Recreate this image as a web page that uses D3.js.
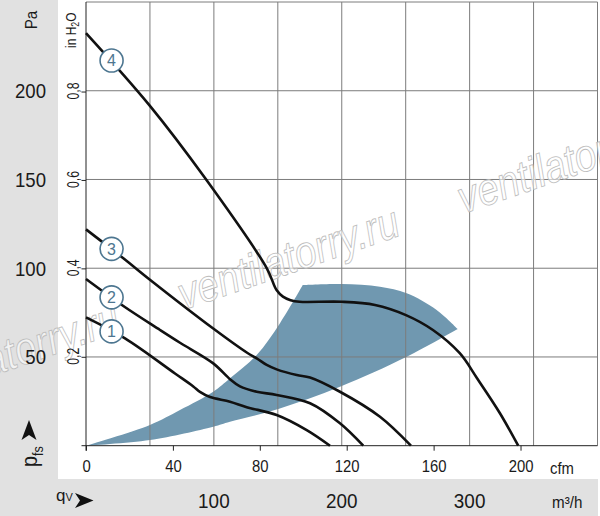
<!DOCTYPE html>
<html>
<head>
<meta charset="utf-8">
<script src="https://cdn.jsdelivr.net/npm/d3@7/dist/d3.min.js"></script>
<style>
    html, body { margin: 0; padding: 0; background: #fff; }
    svg { display: block; }
    text { font-family: "Liberation Sans", Arial, sans-serif; fill: #1a1a1a; }
</style>
</head>
<body>
<svg id="chart" width="600" height="516"></svg>
<script>
// axis values
var flowTicks = [100, 200, 300];          // m3/h
var paTicks = [50, 100, 150, 200];        // Pa
var cfmTicks = [0, 40, 80, 120, 160, 200];
var inchTicks = [0.2, 0.4, 0.6, 0.8];     // in H2O
var gridFlow = [50, 100, 150, 200, 250, 300, 350, 400];
var gridPa = [50, 100, 150, 200, 250];

// fan curves, [m3/h, Pa]
var curve1 = [[0, 72.3], [30.5, 60.5], [69.6, 40.7], [83.9, 33.4], [89.1, 30.3], [97, 27.4],
    [112.6, 24.8], [125.7, 21.7], [149.1, 17.3], [172.6, 8.8], [190.8, 0]];
var curve2 = [[0, 93.9], [29.2, 78.7], [57.9, 65.2], [73.5, 58], [99.5, 46.4], [112.6, 37.5], [120.4, 33.4],
    [133.5, 30.4], [149.1, 28.6], [175.2, 23.9], [198.6, 12.6], [216.8, 0]];
var curve3 = [[0, 121.9], [29.2, 105.6], [50, 93.5], [99.5, 66], [125.7, 52.5], [133.5, 49.2],
    [141.3, 45.5], [149.1, 43], [164.8, 39.8], [175.2, 38.4], [198.6, 30.4], [229.9, 16.3], [254.1, 0]];
var curve4 = [[0, 232.5], [50, 191.5], [93.1, 150.8], [141.3, 100.1], [149, 87.7],
    [154, 84], [160, 82], [167, 81.1], [200, 81.1], [226, 79.3], [250.2, 73.6], [271.3, 65.2], [292.3, 52.1],
    [305.8, 38], [323.7, 18.3], [338, 0]];

var curveNames = ['1', '2', '3', '4'];
var labelFlow = [20, 20, 20, 20];
var labelPa = [64.4, 83.6, 110.9, 217];

// operating range, three edges
var areaLeft = [[0, 0], [50, 11.7], [73.5, 20.1], [99.5, 30.4], [112.6, 38], [133.5, 51.1], [151.7, 69], [169.5, 90.5]];
var areaTop = [[169.5, 90.5], [200, 91.1], [229.9, 89.6], [250.8, 85.9], [274.2, 76.5], [290.7, 65.7]];
var areaBottom = [[290.7, 65.7], [250.8, 50.1], [198.6, 33.2], [150.4, 20.7], [112.6, 13.5], [99.5, 10.7], [50, 3.2], [0, 0]];

var watermark = 'ventilatorry.ru';

var svg = d3.select('#chart');

var x = d3.scaleLinear().domain([0, 400]).range([86, 597.5]),
    y = d3.scaleLinear().domain([0, 250]).range([445.7, 2]),
    xCfm = d3.scaleLinear().domain([0, 400 / 1.699]).range(x.range()),
    yInch = d3.scaleLinear().domain([0, 250 / 249.09]).range(y.range());

var grey = '#e1e1e1',
    gridColor = '#7c7c7c',
    areaColor = '#7098b0',
    badgeColor = '#4d7690';

function place(sel, tx, ty, rotate, squeeze) {
    return sel.attr('transform', 'translate(' + tx + ',' + ty + ')' +
        (rotate ? ' rotate(-90)' : '') + ' scale(' + (squeeze || 1) + ',1)');
}

// backgrounds
svg.append('rect').attr('width', 600).attr('height', 516).attr('fill', '#fff');
svg.append('rect').attr('x', 0).attr('y', 0).attr('width', 58).attr('height', 479).attr('fill', grey);
svg.append('rect').attr('x', 0).attr('y', 479).attr('width', 598).attr('height', 37).attr('fill', grey);

// operating range
var edge = d3.line()
    .x(function(d) { return x(d[0]); })
    .y(function(d) { return y(d[1]); })
    .curve(d3.curveCatmullRom.alpha(0.5));

svg.append('path')
    .attr('d', edge(areaLeft) + edge(areaTop).replace(/^M/, 'L') + edge(areaBottom).replace(/^M/, 'L') + 'Z')
    .attr('fill', areaColor);

// grid
var grid = svg.append('g').attr('stroke', gridColor).attr('stroke-width', 1);
grid.selectAll('line.v').data(gridFlow).enter().append('line')
    .attr('x1', function(d) { return x(d); })
    .attr('x2', function(d) { return x(d); })
    .attr('y1', y(0))
    .attr('y2', y(250));
grid.selectAll('line.h').data(gridPa).enter().append('line')
    .attr('x1', x(0))
    .attr('x2', x(400))
    .attr('y1', function(d) { return y(d); })
    .attr('y2', function(d) { return y(d); });

// watermark
var wmAngle = -19,
    wmStep = 296,
    rad = wmAngle * Math.PI / 180;
svg.append('g').selectAll('text').data([-1, 0, 1]).enter().append('text')
    .attr('transform', function(k) {
        var px = 184 + k * wmStep * Math.cos(rad),
            py = 310 + k * wmStep * Math.sin(rad);
        return 'translate(' + px + ',' + py + ') rotate(' + wmAngle + ') scale(0.92,1.08)';
    })
    .style('font-size', '42px')
    .style('font-style', 'italic')
    .style('fill', '#fff')
    .style('fill-opacity', 0.6)
    .style('stroke', '#bdbdbd')
    .style('stroke-width', 0.8)
    .text(watermark);

// axis lines
svg.append('line')
    .attr('x1', x(0) - 4.5).attr('x2', x(400))
    .attr('y1', y(0)).attr('y2', y(0))
    .attr('stroke', '#222');
svg.append('line')
    .attr('x1', x(0)).attr('x2', x(0))
    .attr('y1', y(250)).attr('y2', y(0) + 5)
    .attr('stroke', '#222');

svg.append('g').selectAll('line').data(inchTicks).enter().append('line')
    .attr('x1', x(0) - 4.5).attr('x2', x(0))
    .attr('y1', function(d) { return yInch(d); })
    .attr('y2', function(d) { return yInch(d); })
    .attr('stroke', '#222');

// cfm axis
var cfmAxis = svg.append('g')
    .attr('transform', 'translate(0,' + y(0) + ')')
    .call(d3.axisBottom(xCfm).tickValues(cfmTicks).tickSizeInner(5).tickSizeOuter(0).tickPadding(10));
cfmAxis.select('.domain').remove();
cfmAxis.selectAll('line').attr('stroke', '#222');
cfmAxis.selectAll('text')
    .attr('transform', 'scale(0.9,1)')
    .style('font-size', '16.5px')
    .style('font-family', '"Liberation Sans", Arial, sans-serif')
    .attr('fill', '#1a1a1a');
place(svg.append('text'), 550, 473.5, false, 0.9)
    .style('font-size', '16.5px')
    .text('cfm');

// fan curves
var fanLine = d3.line()
    .x(function(d) { return x(d[0]); })
    .y(function(d) { return y(d[1]); })
    .curve(d3.curveCatmullRom.alpha(0.5));

svg.append('g').selectAll('path').data([curve1, curve2, curve3, curve4]).enter().append('path')
    .attr('d', fanLine)
    .attr('fill', 'none')
    .attr('stroke', '#111')
    .attr('stroke-width', 2.6)
    .attr('stroke-linejoin', 'round');

// numbered badges
var badges = svg.append('g').selectAll('g').data(curveNames).enter().append('g')
    .attr('transform', function(d, i) { return 'translate(' + x(labelFlow[i]) + ',' + y(labelPa[i]) + ')'; });
badges.append('circle')
    .attr('r', 11.5)
    .attr('fill', '#fff')
    .attr('stroke', badgeColor)
    .attr('stroke-width', 1.6);
badges.append('text')
    .attr('text-anchor', 'middle')
    .attr('dy', '0.37em')
    .style('font-size', '16px')
    .style('fill', badgeColor)
    .text(function(d) { return d; });

// Pa labels
svg.append('g').selectAll('text').data(paTicks).enter().append('text')
    .each(function(d) { place(d3.select(this), 46, y(d) + 7.5, false, 0.93); })
    .attr('text-anchor', 'end')
    .style('font-size', '20px')
    .text(function(d) { return d; });
place(svg.append('text'), 37, 20, true, 0.95)
    .attr('text-anchor', 'middle')
    .style('font-size', '16px')
    .text('Pa');

// in H2O labels
svg.append('g').selectAll('text').data(inchTicks).enter().append('text')
    .each(function(d) { place(d3.select(this), 79, yInch(d) - 1, true, 0.72); })
    .attr('text-anchor', 'middle')
    .style('font-size', '17px')
    .text(function(d) { return String(d).replace('.', ','); });
var inchTitle = place(svg.append('text'), 76, 48, true, 0.8).style('font-size', '15px');
inchTitle.append('tspan').text('in H');
inchTitle.append('tspan').attr('dy', 3).style('font-size', '11px').text('2');
inchTitle.append('tspan').attr('dy', -3).text('O');

// m3/h labels
svg.append('g').selectAll('text').data(flowTicks).enter().append('text')
    .each(function(d) { place(d3.select(this), x(d), 508, false, 0.9); })
    .attr('text-anchor', 'middle')
    .style('font-size', '21px')
    .text(function(d) { return d; });
place(svg.append('text'), 552, 508, false, 0.95)
    .style('font-size', '16px')
    .text('m³/h');

// pfs with arrow
var pfs = place(svg.append('text'), 37, 467, true, 0.9).style('font-size', '22px');
pfs.append('tspan').text('p');
pfs.append('tspan').attr('dy', 6).style('font-size', '14px').text('fs');
svg.append('path')
    .attr('d', 'M29,420 L36.5,440 L29,435 L21.5,440 Z')
    .attr('fill', '#111');

// qV with arrow
var qv = svg.append('text').attr('x', 56).attr('y', 500.5).style('font-size', '17px');
qv.append('tspan').text('q');
qv.append('tspan').style('font-size', '11px').text('V');
svg.append('path')
    .attr('d', 'M93.5,500.5 L75,493 L80,500.5 L75,508 Z')
    .attr('fill', '#111');
</script>
</body>
</html>
